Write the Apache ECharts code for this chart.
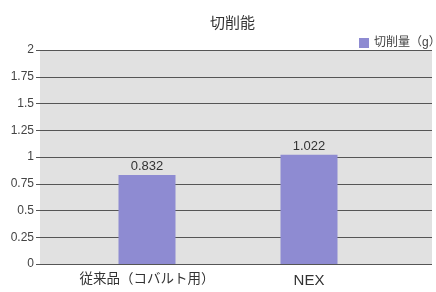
<!DOCTYPE html>
<html><head><meta charset="utf-8">
<script src="https://cdn.jsdelivr.net/npm/echarts@6/dist/echarts.min.js"></script>
<style>html,body{margin:0;padding:0;background:#fff}#c{width:436px;height:292px}</style>
</head><body><div id="c"></div>
<script>
const title = '切削能';
const seriesName = '切削量（g）';
const categories = ['従来品（コバルト用）', 'NEX'];
const values = [0.832, 1.022];
const yMin = 0, yMax = 2, yInterval = 0.25;

const font = '"Liberation Sans", "Noto Sans CJK JP", sans-serif';
const chart = echarts.init(document.getElementById('c'), null, {renderer: 'canvas'});
chart.setOption({
  backgroundColor: '#ffffff',
  animation: false,
  title: {text: title, left: 205, top: 11, textStyle: {fontSize: 15, fontWeight: 'normal', color: '#333', fontFamily: font}},
  legend: {data: [seriesName], left: 354, top: 32, icon: 'rect', itemWidth: 10, itemHeight: 10, itemGap: 7,
    textStyle: {fontSize: 12, color: '#444', fontFamily: font}},
  grid: [
    {left: 40, right: 4, top: 50, bottom: 28, show: true, backgroundColor: '#e1e1e1', borderWidth: 0},
    {left: 66, right: 46, top: 50, bottom: 28}
  ],
  xAxis: [
    {gridIndex: 0, type: 'value', show: false},
    {gridIndex: 1, type: 'category', data: categories,
     axisLine: {show: false}, axisTick: {show: false},
     axisLabel: {interval: 0, hideOverlap: false, margin: 9, fontSize: 13.5, color: '#333', fontFamily: font,
       formatter: function (v) { return /^[A-Za-z]+$/.test(v) ? '{big|' + v + '}' : v; },
       rich: {big: {fontSize: 15, color: '#333', fontFamily: font}}}}
  ],
  yAxis: [
    {gridIndex: 0, type: 'value', min: yMin, max: yMax, interval: yInterval,
     axisLine: {show: false},
     axisTick: {show: true, length: 4, lineStyle: {color: '#555'}},
     axisLabel: {margin: 6, fontSize: 12, color: '#444', fontFamily: font},
     splitLine: {show: true, lineStyle: {color: '#555', width: 1}}},
    {gridIndex: 1, type: 'value', min: yMin, max: yMax, show: false, splitLine: {show: false}}
  ],
  series: [{
    name: seriesName, type: 'bar', xAxisIndex: 1, yAxisIndex: 1,
    data: values, barWidth: 57,
    itemStyle: {color: '#8e8bd2'},
    label: {show: true, position: 'top', distance: 2, fontSize: 13, color: '#333', fontFamily: font}
  }]
});
</script></body></html>
